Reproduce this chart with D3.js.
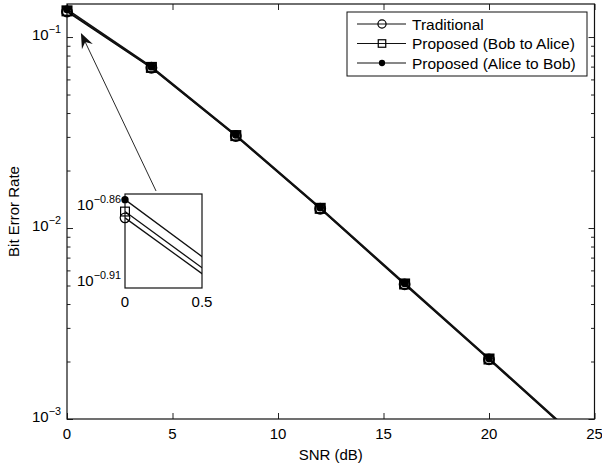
<!DOCTYPE html>
<html>
<head>
<meta charset="utf-8">
<script src="https://cdn.jsdelivr.net/npm/d3@7"></script>
<style>
body { margin: 0; background: #fff; }
text { font-family: "Liberation Sans", Arial, sans-serif; fill: #000; }
</style>
</head>
<body>
<script>
// data
var snr = [0, 4, 8, 12, 16, 20, 24];
var traditional = [0.1358, 0.06902, 0.03034, 0.01262, 0.005070, 0.002051, 0.000820];
var bobToAlice  = [0.1371, 0.06934, 0.03048, 0.01268, 0.005093, 0.002061, 0.000824];
var aliceToBob  = [0.1396, 0.06998, 0.03076, 0.01279, 0.005140, 0.002080, 0.000832];
var legendLabels = ["Traditional", "Proposed (Bob to Alice)", "Proposed (Alice to Bob)"];
var xTicks = [0, 5, 10, 15, 20, 25];
var yExps = [-3, -2, -1];
var insetXTicks = [0, 0.5];
var insetYExps = [-0.91, -0.86];

var width = 602, height = 465;

var svg = d3.select("body").append("svg")
    .attr("width", width)
    .attr("height", height);

var x = d3.scaleLinear().domain([0, 25]).range([67, 594.5]);
var y = d3.scaleLog().domain([1e-3, Math.pow(10, -0.827)]).range([419, 4]);

var series = [
  {name: legendLabels[0], vals: traditional, marker: "circle"},
  {name: legendLabels[1], vals: bobToAlice, marker: "square"},
  {name: legendLabels[2], vals: aliceToBob, marker: "dot"}
];
series.forEach(function(s) {
  s.pts = snr.map(function(v, i) { return [v, s.vals[i]]; });
});

function drawMarker(g, type, cx, cy, scale, sw) {
  scale = scale || 1;
  sw = sw || 1.2;
  if (type == "circle") {
    g.append("circle").attr("cx", cx).attr("cy", cy).attr("r", 4.8 * scale)
      .attr("fill", "none").attr("stroke", "#000").attr("stroke-width", sw);
  } else if (type == "square") {
    var h = 4.4 * scale;
    g.append("rect").attr("x", cx - h).attr("y", cy - h).attr("width", 2 * h).attr("height", 2 * h)
      .attr("fill", "none").attr("stroke", "#000").attr("stroke-width", sw);
  } else {
    g.append("circle").attr("cx", cx).attr("cy", cy).attr("r", 3.7 * scale).attr("fill", "#000");
  }
}

// clip for main plot
svg.append("clipPath").attr("id", "mainclip").append("rect")
  .attr("x", x(0)).attr("y", y.range()[1])
  .attr("width", x(25) - x(0)).attr("height", y.range()[0] - y.range()[1]);

// ticks: major + minor on log axis, mirrored
var minorVals = [];
[-3, -2, -1].forEach(function(e) {
  for (var k = 2; k <= 9; k++) {
    var v = k * Math.pow(10, e);
    if (v < y.domain()[1]) minorVals.push(v);
  }
});

svg.append("g").attr("transform", "translate(0," + y.range()[0] + ")")
  .call(d3.axisBottom(x).tickValues(xTicks).tickSize(-6).tickFormat(""));
svg.append("g").attr("transform", "translate(0," + y.range()[1] + ")")
  .call(d3.axisTop(x).tickValues(xTicks).tickSize(-6).tickFormat(""));
svg.append("g").attr("transform", "translate(" + x(0) + ",0)")
  .call(d3.axisLeft(y).tickValues(yExps.map(function(e) { return Math.pow(10, e); })).tickSize(-6).tickFormat(""));
svg.append("g").attr("transform", "translate(" + x(0) + ",0)")
  .call(d3.axisLeft(y).tickValues(minorVals).tickSize(-3.5).tickFormat(""));
svg.append("g").attr("transform", "translate(" + x(25) + ",0)")
  .call(d3.axisRight(y).tickValues(yExps.map(function(e) { return Math.pow(10, e); })).tickSize(-6).tickFormat(""));
svg.append("g").attr("transform", "translate(" + x(25) + ",0)")
  .call(d3.axisRight(y).tickValues(minorVals).tickSize(-3.5).tickFormat(""));
svg.selectAll(".domain").remove();
svg.selectAll(".tick line").attr("stroke", "#222").attr("stroke-width", 1);

// frame
svg.append("rect")
  .attr("x", x(0)).attr("y", y.range()[1])
  .attr("width", x(25) - x(0)).attr("height", y.range()[0] - y.range()[1])
  .attr("fill", "none").attr("stroke", "#111").attr("stroke-width", 1.2);

// tick labels
svg.append("g").selectAll("text").data(xTicks).enter().append("text")
  .attr("x", function(d) { return x(d); })
  .attr("y", 439)
  .attr("text-anchor", "middle")
  .attr("font-size", "15px")
  .text(function(d) { return d; });

function supLabel(g, xr, yc, exp, size) {
  var t = g.append("text").attr("x", xr).attr("y", yc + 5).attr("text-anchor", "end")
    .attr("font-size", size + "px");
  t.append("tspan").text("10");
  t.append("tspan").attr("dy", -7).attr("font-size", (size * 0.72) + "px").text("\u2212" + exp);
}
var ylab = svg.append("g");
yExps.forEach(function(e) { supLabel(ylab, 61, y(Math.pow(10, e)) - 2, Math.abs(e), 15); });

// axis titles
svg.append("text").attr("x", (x(0) + x(25)) / 2).attr("y", 460)
  .attr("text-anchor", "middle").attr("font-size", "15px").text("SNR (dB)");
svg.append("text").attr("transform", "translate(19," + ((y.range()[0] + y.range()[1]) / 2) + ") rotate(-90)")
  .attr("text-anchor", "middle").attr("font-size", "15px").text("Bit Error Rate");

// lines
var line = d3.line().x(function(d) { return x(d[0]); }).y(function(d) { return y(d[1]); });
var plot = svg.append("g");
series.forEach(function(s) {
  plot.append("path").datum(s.pts).attr("d", line)
    .attr("clip-path", "url(#mainclip)")
    .attr("fill", "none").attr("stroke", "#111").attr("stroke-width", 1.6);
});
series.forEach(function(s) {
  s.pts.filter(function(d) { return d[1] >= y.domain()[0]; }).forEach(function(d) {
    drawMarker(plot, s.marker, x(d[0]), y(d[1]), 1.05, 1.8);
  });
});

// arrow from inset to the first point region
var tail = [x(4.22), y(Math.pow(10, -1.806))];
var tip = [x(0.66), y(Math.pow(10, -0.979))];
var dx = tip[0] - tail[0], dy = tip[1] - tail[1], len = Math.sqrt(dx * dx + dy * dy);
var ux = dx / len, uy = dy / len, nx = -uy, ny = ux;
var hl = 15, hw = 6, notch = 10;
svg.append("line").attr("x1", tail[0]).attr("y1", tail[1])
  .attr("x2", tip[0] - ux * notch).attr("y2", tip[1] - uy * notch)
  .attr("stroke", "#111").attr("stroke-width", 0.9);
svg.append("path")
  .attr("d", "M" + tip[0] + "," + tip[1] +
    "L" + (tip[0] - ux * hl + nx * hw) + "," + (tip[1] - uy * hl + ny * hw) +
    "L" + (tip[0] - ux * notch) + "," + (tip[1] - uy * notch) +
    "L" + (tip[0] - ux * hl - nx * hw) + "," + (tip[1] - uy * hl - ny * hw) + "Z")
  .attr("fill", "#111");

// inset
var ix = d3.scaleLinear().domain([0, 0.5]).range([125, 202]);
var iy = d3.scaleLog().domain([Math.pow(10, -0.9133), Math.pow(10, -0.8514)]).range([288, 194]);
var inset = svg.append("g");
inset.append("rect").attr("x", 125).attr("y", 194).attr("width", 77).attr("height", 94)
  .attr("fill", "#fff");
svg.append("clipPath").attr("id", "insetclip").append("rect")
  .attr("x", 125).attr("y", 194).attr("width", 77).attr("height", 94);
var iline = d3.line().x(function(d) { return ix(d[0]); }).y(function(d) { return iy(d[1]); });
series.forEach(function(s) {
  inset.append("path").datum(s.pts).attr("d", iline)
    .attr("clip-path", "url(#insetclip)")
    .attr("fill", "none").attr("stroke", "#111").attr("stroke-width", 1.3);
});
inset.append("rect").attr("x", 125).attr("y", 194).attr("width", 77).attr("height", 94)
  .attr("fill", "none").attr("stroke", "#111").attr("stroke-width", 1.2);
series.forEach(function(s) {
  s.pts.filter(function(d) { return d[0] <= 0.5; }).forEach(function(d) {
    drawMarker(inset, s.marker, ix(d[0]), iy(d[1]));
  });
});
inset.selectAll(".xl").data(insetXTicks).enter().append("text")
  .attr("x", function(d) { return ix(d); }).attr("y", 307)
  .attr("text-anchor", "middle").attr("font-size", "15px")
  .text(function(d) { return d; });
insetYExps.forEach(function(e) {
  supLabel(inset, 121, iy(Math.pow(10, e)) - 2, Math.abs(e).toFixed(2), 15);
});

// legend
var lg = svg.append("g");
lg.append("rect").attr("x", 347).attr("y", 12).attr("width", 240).attr("height", 64)
  .attr("fill", "#fff").attr("stroke", "#111").attr("stroke-width", 1);
series.forEach(function(s, i) {
  var ly = 24 + i * 19.5;
  lg.append("line").attr("x1", 357).attr("x2", 406).attr("y1", ly).attr("y2", ly)
    .attr("stroke", "#111").attr("stroke-width", 1.2);
  drawMarker(lg, s.marker, 382, ly, 0.85);
  lg.append("text").attr("x", 412).attr("y", ly + 5.5).attr("font-size", "15.5px").text(s.name);
});
</script>
</body>
</html>
